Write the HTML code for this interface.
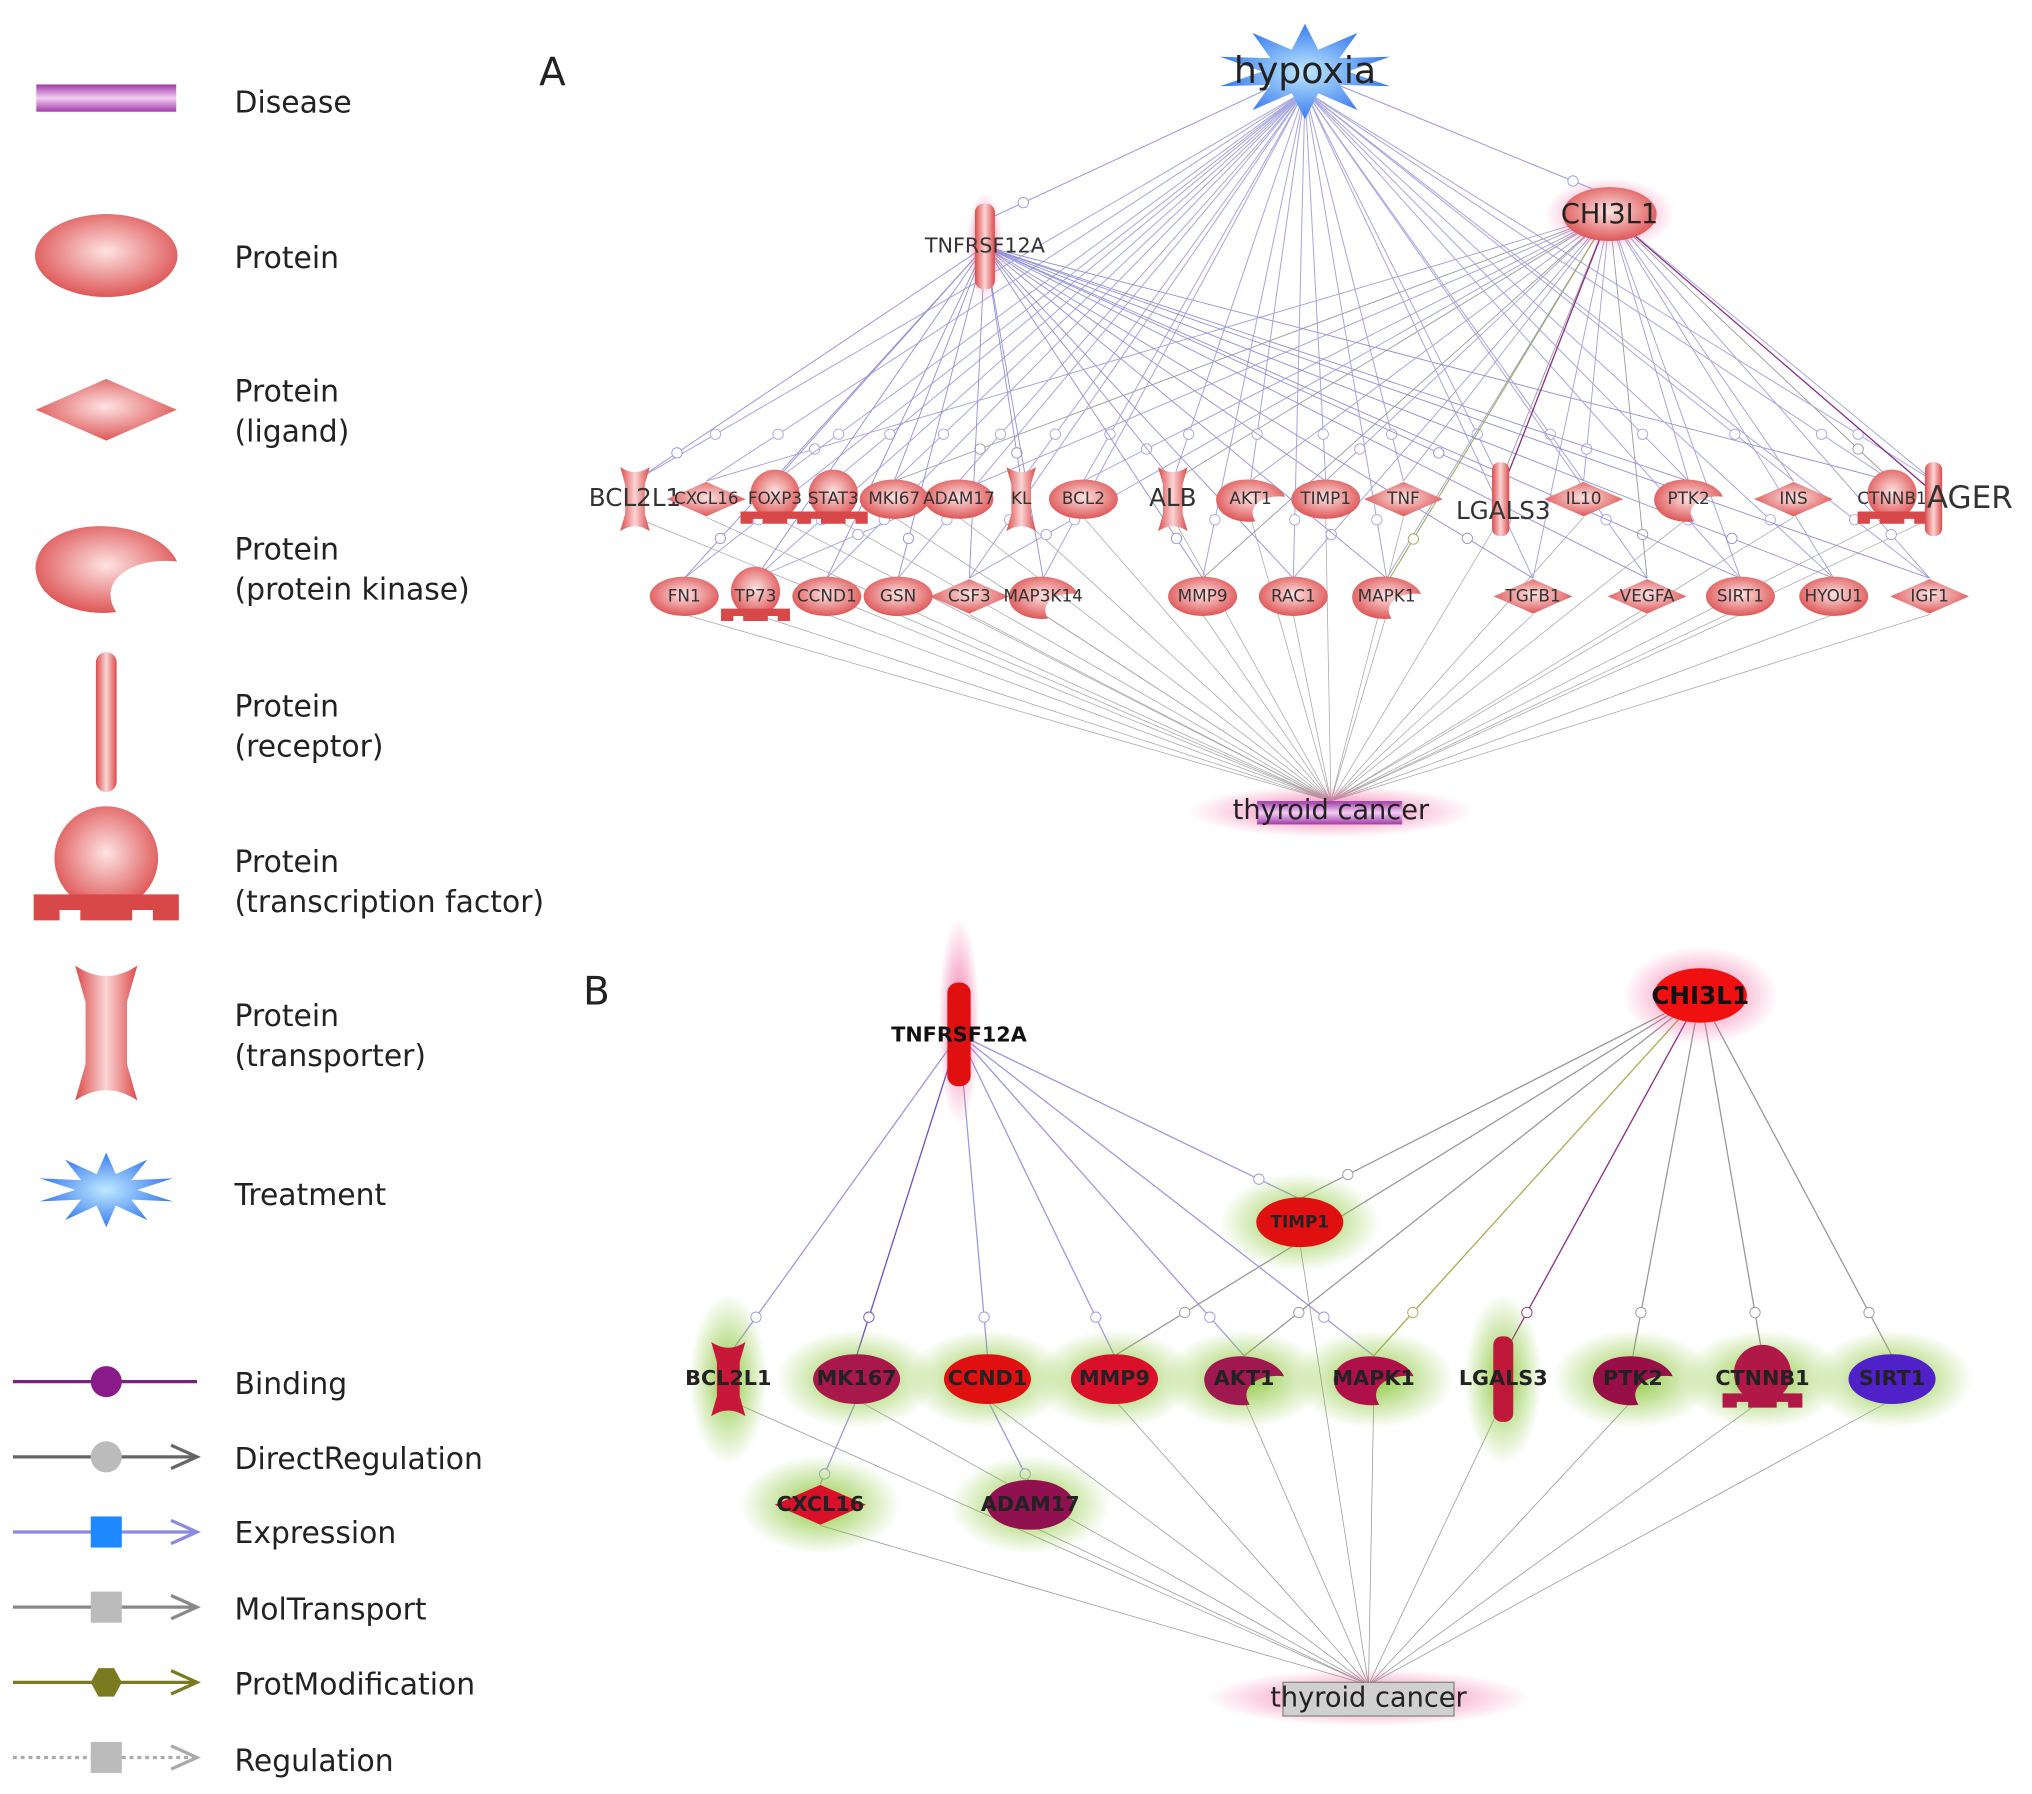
<!DOCTYPE html>
<html><head><meta charset="utf-8"><style>
html,body{margin:0;padding:0;background:#fff;}
svg{display:block;}
text{font-family:"DejaVu Sans","Liberation Sans",sans-serif;}
</style></head><body>
<svg id="s" width="2032" height="1794" viewBox="0 0 1568 1384" xmlns="http://www.w3.org/2000/svg">
<defs>
<radialGradient id="pg" cx="50%" cy="45%" r="60%"><stop offset="0" stop-color="#fde3e3"/><stop offset="1" stop-color="#dc4a4a"/></radialGradient>
<linearGradient id="rg" x1="0" x2="1"><stop offset="0" stop-color="#dc4a4a"/><stop offset=".5" stop-color="#fbd5d5"/><stop offset="1" stop-color="#dc4a4a"/></linearGradient>
<linearGradient id="dg" x1="0" y1="0" x2="0" y2="1"><stop offset="0" stop-color="#a03aa8"/><stop offset=".5" stop-color="#f3cdf3"/><stop offset="1" stop-color="#a03aa8"/></linearGradient>
<radialGradient id="sg" cx="50%" cy="50%" r="50%"><stop offset="0" stop-color="#bfe9ff"/><stop offset="1" stop-color="#3a7cf0"/></radialGradient>
<radialGradient id="glowP"><stop offset="0" stop-color="#f05090" stop-opacity=".8"/><stop offset="1" stop-color="#f05090" stop-opacity="0"/></radialGradient>
<radialGradient id="glowG"><stop offset="0" stop-color="#7cc020" stop-opacity=".85"/><stop offset="1" stop-color="#7cc020" stop-opacity="0"/></radialGradient>
</defs>
<g id="edges"></g>
<g id="nodes"></g>
</svg>
<script>
var NS="http://www.w3.org/2000/svg";
var E=document.getElementById('edges'),N=document.getElementById('nodes');
function el(p,t,a,txt){var e=document.createElementNS(NS,t);for(var k in a)e.setAttribute(k,a[k]);if(txt!=null)e.textContent=txt;p.appendChild(e);return e;}
function line(x1,y1,x2,y2,c,w,plus){el(E,'line',{x1:x1,y1:y1,x2:x2,y2:y2,stroke:c,'stroke-width':w||0.8});
 if(plus){var t=0.88,px=x1+(x2-x1)*t,py=y1+(y2-y1)*t;el(E,'circle',{cx:px,cy:py,r:4,fill:'#fff',stroke:c,'stroke-width':0.7});}}
function shape(g,type,x,y,s,fill){
 s=s||1;fill=fill||'url(#pg)';
 if(type=='e')el(g,'ellipse',{cx:x,cy:y,rx:28*s,ry:16*s,fill:fill});
 else if(type=='d')el(g,'polygon',{points:(x-32*s)+','+y+' '+x+','+(y-14*s)+' '+(x+32*s)+','+y+' '+x+','+(y+14*s),fill:fill});
 else if(type=='k')el(g,'path',{d:'M'+(x+28*s)+','+(y-2*s)+' C'+(x+20*s)+','+(y-20*s)+' '+(x-26*s)+','+(y-22*s)+' '+(x-28*s)+','+y+' C'+(x-28*s)+','+(y+14*s)+' '+(x-10*s)+','+(y+20*s)+' '+(x+4*s)+','+(y+18*s)+' C'+(x-4*s)+','+(y+6*s)+' '+(x+10*s)+','+(y-4*s)+' '+(x+28*s)+','+(y-2*s)+'Z',fill:fill});
 else if(type=='r'){el(g,'rect',{x:x-7*s,y:y-30*s,width:14*s,height:60*s,rx:6*s,fill:fill=='url(#pg)'?'url(#rg)':fill});}
 else if(type=='t'){el(g,'circle',{cx:x,cy:y-4*s,r:20*s,fill:fill});el(g,'path',{d:'M'+(x-28*s)+','+(y+10*s)+'h56v10h-10v-4h-8v4h-20v-4h-8v4h-10z'.replace(/h(-?\d+)/g,function(m,a){return 'h'+a*s}).replace(/v(-?\d+)/g,function(m,a){return 'v'+a*s}),fill:fill=='url(#pg)'?'#d84848':fill});}
 else if(type=='x'){el(g,'path',{d:'M'+(x-12*s)+','+(y-26*s)+' Q'+x+','+(y-18*s)+' '+(x+12*s)+','+(y-26*s)+' L'+(x+8*s)+','+(y-12*s)+' L'+(x+8*s)+','+(y+12*s)+' L'+(x+12*s)+','+(y+26*s)+' Q'+x+','+(y+18*s)+' '+(x-12*s)+','+(y+26*s)+' L'+(x-8*s)+','+(y+12*s)+' L'+(x-8*s)+','+(y-12*s)+'Z',fill:fill=='url(#pg)'?'url(#rg)':fill});}
}
function star(g,x,y,r1,r2,n){var p=[];for(var i=0;i<2*n;i++){var a=Math.PI*i/n-Math.PI/2,r=i%2?r2:r1;p.push((x+r*Math.cos(a)*1.5)+','+(y+r*Math.sin(a)*0.8));}el(g,'polygon',{points:p.join(' '),fill:'url(#sg)'});}
function glow(x,y,rx,ry,id){el(N,'ellipse',{cx:x,cy:y,rx:rx,ry:ry,fill:'url(#'+id+')'});}
function label(x,y,t,sz,w,c){el(N,'text',{x:x,y:y,'font-size':sz||13,'text-anchor':'middle','dominant-baseline':'middle','font-weight':w||'normal',fill:c||'#333'},t);}

// ===== Legend =====
var L=N;
el(L,'rect',{x:28,y:65,width:108,height:21,fill:'url(#dg)'});
el(L,'ellipse',{cx:82,cy:197,rx:55,ry:32,fill:'url(#pg)'});
shape(L,'d',82,316,1.7);
shape(L,'k',82,437,1.95);
el(L,'rect',{x:74,y:503,width:16,height:108,rx:8,fill:'url(#rg)'});
shape(L,'t',82,670,2);
shape(L,'x',82,797,2);
star(L,82,918,36,16,10);
var lt=[[80,'Disease'],[200,'Protein'],[303,'Protein'],[334,'(ligand)'],[425,'Protein'],[456,'(protein kinase)'],[546,'Protein'],[577,'(receptor)'],[666,'Protein'],[697,'(transcription factor)'],[785,'Protein'],[816,'(transporter)'],[923,'Treatment'],
[1069,'Binding'],[1127,'DirectRegulation'],[1184,'Expression'],[1243,'MolTransport'],[1301,'ProtModification'],[1360,'Regulation']];
lt.forEach(function(a){el(L,'text',{x:181,y:a[0],'font-size':23,'dominant-baseline':'middle',fill:'#222'},a[1]);});
var leg=[[1066,'#7a1f7a','c','#8a1a8a'],[1124,'#666','c','#bbb'],[1182,'#8a8ae0','s','#1e88ff'],[1240,'#888','s','#bbb'],[1298,'#7a7a20','h','#7a7a20'],[1356,'#aaa','s','#bbb']];
leg.forEach(function(a){var y=a[0];el(L,'line',{x1:10,y1:y,x2:152,y2:y,stroke:a[1],'stroke-width':2.5,'stroke-dasharray':y==1356?'3,3':''});
 if(y!=1066)el(L,'polyline',{points:'132,'+(y-9)+' 152,'+y+' 132,'+(y+9),fill:'none',stroke:a[1],'stroke-width':2.5});
 if(a[2]=='c')el(L,'circle',{cx:82,cy:y,r:12,fill:a[3]});
 else if(a[2]=='s')el(L,'rect',{x:70,y:y-12,width:24,height:24,fill:a[3]});
 else el(L,'polygon',{points:'70,'+y+' 76,'+(y-11)+' 88,'+(y-11)+' 94,'+y+' 88,'+(y+11)+' 76,'+(y+11),fill:a[3]});});

// ===== Panel A =====
el(N,'text',{x:416,y:66,'font-size':30,fill:'#222'},'A');
var hx=1007,hy=55,tx=760,ty=190,cx=1242,cy=165,dx=1027,dy=626;
var r1=[['BCL2L1',490,'x'],['CXCL16',545,'d'],['FOXP3',598,'t'],['STAT3',643,'t'],['MKI67',690,'e'],['ADAM17',740,'e'],['KL',788,'x'],['BCL2',836,'e'],['ALB',905,'x'],['AKT1',965,'k'],['TIMP1',1023,'e'],['TNF',1083,'d'],['LGALS3',1158,'r'],['IL10',1222,'d'],['PTK2',1303,'k'],['INS',1384,'d'],['CTNNB1',1460,'t'],['AGER',1492,'r']];
var r2=[['FN1',528,'e'],['TP73',583,'t'],['CCND1',638,'e'],['GSN',693,'e'],['CSF3',748,'d'],['MAP3K14',805,'k'],['MMP9',928,'e'],['RAC1',998,'e'],['MAPK1',1070,'k'],['TGFB1',1183,'d'],['VEGFA',1271,'d'],['SIRT1',1343,'e'],['HYOU1',1415,'e'],['IGF1',1489,'d']];
var all=r1.map(function(a){return[a[0],a[1],385,a[2]]}).concat(r2.map(function(a){return[a[0],a[1],460,a[2]]}));
all.forEach(function(n,i){
 line(hx,hy+15,n[1],n[2]-14,'#a8a8e0',0.8,true);
 if(i%2==0||n[2]==460)line(tx,ty,n[1],n[2]-14,'#9090d8',0.7,i%3==0);
 if(n[1]>850||i%3==1)line(cx,cy,n[1],n[2]-14,i%4==0?'#9a9a9a':'#a0a0d8',0.7,i%3==1);
 line(n[1],n[2]+14,dx,dy-8,'#aaa',0.6,false);
});
line(hx,hy,tx,ty-20,'#9999dd',0.8,true);line(hx,hy,cx,cy-14,'#9999dd',0.8,true);
line(cx,cy,1158,380,'#8a2a8a',1);line(cx,cy,1492,380,'#8a2a8a',1);line(cx,cy,1070,450,'#99aa55',0.8,true);
// nodes A
glow(dx,dy,110,20,'glowP');
el(N,'rect',{x:970,y:618,width:112,height:18,fill:'url(#dg)'});
label(dx,626,'thyroid cancer',21,'normal','#222');
star(N,hx,hy,46,22,10);
label(hx,56,'hypoxia',28,'normal','#222');
glow(tx,ty,14,42,'glowP');shape(N,'r',tx,ty,1.1);
label(tx,190,'TNFRSF12A',16);
glow(cx,cy,50,28,'glowP');shape(N,'e',cx,cy,1.3);
label(cx,166,'CHI3L1',21,'normal','#222');
all.forEach(function(n){shape(N,n[3],n[1],n[2],0.95);var big=['BCL2L1','ALB','LGALS3','AGER'].indexOf(n[0])>=0;
 label(n[0]=='LGALS3'?n[1]+2:n[0]=='AGER'?n[1]+28:n[1],n[2]+ (n[0]=='LGALS3'?10:0),n[0],big?(n[0]=='AGER'?24:19):13,'normal','#333');});

// ===== Panel B =====
el(N,'text',{x:450,y:775,'font-size':30,fill:'#222'},'B');
var Bt=[740,798],Bc=[1312,768],Bd=[1056,1310];
var B=[['BCL2L1',562,1064,'x','#c8183a'],['MK167',661,1064,'e','#a8184a'],['CCND1',762,1064,'e','#e01010'],['MMP9',860,1064,'e','#d8102a'],['AKT1',960,1064,'k','#a01850'],['MAPK1',1060,1064,'k','#b0104a'],['LGALS3',1160,1064,'r','#c0183a'],['PTK2',1260,1064,'k','#980f48'],['CTNNB1',1360,1064,'t','#b01848'],['SIRT1',1460,1064,'e','#5020c8'],['CXCL16',633,1161,'d','#d8102a'],['ADAM17',795,1161,'e','#901050'],['TIMP1',1003,943,'e','#e01010']];
var fromT=['BCL2L1','MK167','CCND1','MMP9','MAPK1','TIMP1','AKT1'],fromC=['TIMP1','AKT1','MAPK1','LGALS3','PTK2','CTNNB1','SIRT1','MMP9'];
B.forEach(function(n){
 if(fromT.indexOf(n[0])>=0)line(Bt[0],Bt[1],n[1],n[2]-18,n[0]=='MK167'?'#7050c0':'#9a9ae0',1,true);
 if(fromC.indexOf(n[0])>=0)line(Bc[0],Bc[1],n[1],n[2]-18,n[0]=='LGALS3'?'#8a2a8a':n[0]=='MAPK1'?'#a0b050':'#999',1,true);
 line(n[1],n[2]+16,Bd[0],Bd[1]-10,'#999',0.6,false);
});
line(661,1080,633,1145,'#9a9ae0',1,true);line(762,1080,795,1145,'#9a9ae0',1,true);
glow(Bd[0],Bd[1],125,22,'glowP');
el(N,'rect',{x:990,y:1298,width:132,height:26,fill:'#d0d0d0',stroke:'#888'});
label(Bd[0],1311,'thyroid cancer',21,'normal','#222');
B.forEach(function(n){glow(n[1],n[2],n[3]=='x'||n[3]=='r'?30:62,n[3]=='x'||n[3]=='r'?66:38,'glowG');});
glow(Bt[0],Bt[1]-10,16,80,'glowP');el(N,'rect',{x:731,y:758,width:18,height:80,rx:8,fill:'#e01010'});
label(Bt[0],799,'TNFRSF12A',16,'bold','#111');
glow(Bc[0],Bc[1],60,38,'glowP');el(N,'ellipse',{cx:Bc[0],cy:Bc[1],rx:36,ry:21,fill:'#f01010'});
label(Bc[0],769,'CHI3L1',19,'bold','#111');
B.forEach(function(n){shape(N,n[3],n[1],n[2],n[3]=='e'?1.2:1.1,n[4]);label(n[1],n[2],n[0],n[0]=='TIMP1'?13:16,'bold','#222');});
</script>
</body></html>
